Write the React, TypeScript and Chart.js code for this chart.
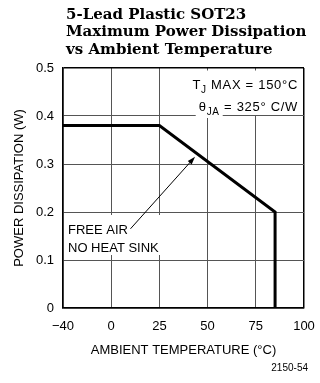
import { useEffect, useRef } from 'react';
import { Chart, registerables } from 'chart.js';

Chart.register(...registerables);

// ---- data ----
const titleLines = ['5-Lead Plastic SOT23', 'Maximum Power Dissipation', 'vs Ambient Temperature'];
const temperatures = [-40, 25, 85, 85];
const powerWatts = [0.38, 0.38, 0.2, 0];
const xTickValues = [-40, 0, 25, 50, 75, 100];
const yTickValues = [0, 0.1, 0.2, 0.3, 0.4, 0.5];
const xAxisTitle = 'AMBIENT TEMPERATURE (°C)';
const yAxisTitle = 'POWER DISSIPATION (W)';
const noteLines = ['FREE AIR', 'NO HEAT SINK'];
const arrowTail = [10, 0.165];
const arrowTip = [43.5, 0.315];
const tjMax = '150';
const thetaJA = '325';
const figureCode = '2150-54';

// axis is broken below 0: the -40..0 span is drawn as wide as one 25-degree step
const toAxis = (t: number) => (t < 0 ? (t * 25) / 40 : t);
const X_MIN = toAxis(xTickValues[0]);
const X_MAX = xTickValues[xTickValues.length - 1];
const Y_MIN = yTickValues[0];
const Y_MAX = yTickValues[yTickValues.length - 1];

const SANS = '"Liberation Sans", Arial, sans-serif';

type Part = { t: string; sub?: boolean };

function drawRich(ctx: CanvasRenderingContext2D, parts: Part[], rightX: number, baseline: number) {
  const main = `13px ${SANS}`;
  const sub = `10px ${SANS}`;
  const widths = parts.map((p) => {
    ctx.font = p.sub ? sub : main;
    return ctx.measureText(p.t).width;
  });
  const total = widths.reduce((a, b) => a + b, 0);
  let cx = rightX - total;
  parts.forEach((p, i) => {
    ctx.font = p.sub ? sub : main;
    ctx.fillText(p.t, cx, baseline + (p.sub ? 4 : 0));
    cx += widths[i];
  });
}

const decorations = {
  id: 'decorations',
  afterDatasetsDraw(chart: any) {
    const { ctx, chartArea: a, scales } = chart;
    const x = scales.x;
    const y = scales.y;
    ctx.save();
    ctx.fillStyle = '#000';
    ctx.textAlign = 'left';
    ctx.textBaseline = 'alphabetic';

    // title
    ctx.font = `bold 15px "DejaVu Serif", serif`;
    titleLines.forEach((l, i) => ctx.fillText(l, a.left + 3, 18.5 + i * 17.5));

    // T_J / theta_JA box
    (ctx as any).letterSpacing = '0.7px';
    const y04 = y.getPixelForValue(0.4);
    const line1: Part[] = [{ t: 'T' }, { t: 'J', sub: true }, { t: ` MAX = ${tjMax}°C` }];
    const line2: Part[] = [{ t: 'θ' }, { t: 'JA', sub: true }, { t: ` = ${thetaJA}° C/W` }];
    const measure = (parts: Part[]) =>
      parts.reduce((s, p) => {
        ctx.font = p.sub ? `10px ${SANS}` : `13px ${SANS}`;
        return s + ctx.measureText(p.t).width;
      }, 0);
    const rightX = a.right - 6;
    const w = Math.max(measure(line1), measure(line2));
    const boxLeft = rightX - w - 4;
    ctx.fillStyle = '#fff';
    ctx.fillRect(boxLeft, a.top + 2.5, a.right - 1 - boxLeft, y04 - 1 - (a.top + 2.5));
    ctx.fillStyle = '#000';
    drawRich(ctx, line1, rightX, y04 - 27);
    // white gap in the 0.4 grid line under the subscript
    const w2 = measure(line2);
    const s2 = rightX - w2;
    ctx.font = `13px ${SANS}`;
    const thW = ctx.measureText('θ').width;
    ctx.font = `10px ${SANS}`;
    const jaW = ctx.measureText('JA').width;
    ctx.fillStyle = '#fff';
    ctx.fillRect(s2 - 3, y04 - 3, thW + jaW + 6, 5);
    ctx.fillStyle = '#000';
    drawRich(ctx, line2, rightX, y04 - 5);
    (ctx as any).letterSpacing = '0px';

    // FREE AIR note
    ctx.font = `13px ${SANS}`;
    const noteX = a.left + 5;
    const noteY0 = y.getPixelForValue(0.2) + 18;
    const noteW = Math.max(...noteLines.map((l) => ctx.measureText(l).width));
    ctx.fillStyle = '#fff';
    ctx.fillRect(noteX - 2, y.getPixelForValue(0.2) + 3, noteW + 5, 40);
    ctx.fillStyle = '#000';
    ctx.textBaseline = 'middle';
    noteLines.forEach((l, i) => ctx.fillText(l, noteX, noteY0 + i * 18));

    // arrow
    const x0 = x.getPixelForValue(toAxis(arrowTail[0]));
    const y0 = y.getPixelForValue(arrowTail[1]);
    const x1 = x.getPixelForValue(toAxis(arrowTip[0]));
    const y1 = y.getPixelForValue(arrowTip[1]);
    const ang = Math.atan2(y1 - y0, x1 - x0);
    const hl = 8;
    const hw = 2.6;
    ctx.strokeStyle = '#000';
    ctx.lineWidth = 1;
    ctx.beginPath();
    ctx.moveTo(x0, y0);
    ctx.lineTo(x1 - Math.cos(ang) * hl * 0.8, y1 - Math.sin(ang) * hl * 0.8);
    ctx.stroke();
    ctx.beginPath();
    ctx.moveTo(x1, y1);
    ctx.lineTo(x1 - Math.cos(ang) * hl - Math.sin(ang) * hw, y1 - Math.sin(ang) * hl + Math.cos(ang) * hw);
    ctx.lineTo(x1 - Math.cos(ang) * hl + Math.sin(ang) * hw, y1 - Math.sin(ang) * hl - Math.cos(ang) * hw);
    ctx.closePath();
    ctx.fill();

    // figure code
    ctx.font = `10px ${SANS}`;
    ctx.textAlign = 'right';
    ctx.textBaseline = 'alphabetic';
    ctx.fillText(figureCode, chart.width - 12, chart.height - 12);
    ctx.restore();
  },
};

export default function App() {
  const ref = useRef<HTMLCanvasElement | null>(null);
  useEffect(() => {
    document.body.style.margin = '0';
    const canvas = ref.current;
    if (!canvas) return;
    const edgeX = (c: any) => c.tick && (c.tick.value === X_MIN || c.tick.value === X_MAX);
    const edgeY = (c: any) => c.tick && (c.tick.value === Y_MIN || c.tick.value === Y_MAX);
    const chart = new Chart(canvas, {
      type: 'line',
      data: {
        datasets: [
          {
            data: temperatures.map((t, i) => ({ x: toAxis(t), y: powerWatts[i] })),
            borderColor: '#000',
            borderWidth: 3,
            pointRadius: 0,
            tension: 0,
            fill: false,
            borderJoinStyle: 'miter',
          },
        ],
      },
      options: {
        animation: false,
        responsive: false,
        devicePixelRatio: 1,
        layout: { padding: { top: 68, right: 16, left: 0, bottom: 0 } },
        plugins: { legend: { display: false }, tooltip: { enabled: false }, title: { display: false } },
        scales: {
          x: {
            type: 'linear',
            min: X_MIN,
            max: X_MAX,
            afterFit: (s: any) => {
              s.height = 75;
              s.paddingLeft = 0;
              s.paddingRight = 0;
            },
            ticks: {
              stepSize: 25,
              autoSkip: false,
              maxRotation: 0,
              color: '#000',
              padding: 11,
              font: { family: SANS, size: 13 },
              callback: (v: any) => {
                const orig = xTickValues.find((t) => Math.abs(toAxis(t) - v) < 1e-6);
                if (orig === undefined) return '';
                return orig < 0 ? '\u2212' + Math.abs(orig) : String(orig);
              },
            },
            grid: {
              drawTicks: false,
              color: (c: any) => (edgeX(c) ? '#000' : '#555'),
              lineWidth: (c: any) => (edgeX(c) ? 1.5 : 1),
            },
            border: { display: true, color: '#000', width: 1.5 },
            title: {
              display: true,
              text: xAxisTitle,
              color: '#000',
              font: { family: SANS, size: 13 },
              padding: { top: 0, bottom: 25 },
            },
          },
          y: {
            min: Y_MIN,
            max: Y_MAX,
            afterFit: (s: any) => {
              s.width = 63;
              s.paddingTop = 0;
              s.paddingBottom = 0;
            },
            ticks: {
              stepSize: 0.1,
              color: '#000',
              padding: 9,
              font: { family: SANS, size: 13 },
              callback: (v: any) => {
                const n = Number(v);
                return n === 0 ? '0' : n.toFixed(1);
              },
            },
            grid: {
              drawTicks: false,
              color: (c: any) => (edgeY(c) ? '#000' : '#555'),
              lineWidth: (c: any) => (edgeY(c) ? 1.5 : 1),
            },
            border: { display: true, color: '#000', width: 1.5 },
            title: {
              display: true,
              text: yAxisTitle,
              color: '#000',
              font: { family: SANS, size: 13 },
              padding: { top: 12, bottom: 0 },
            },
          },
        },
      },
      plugins: [decorations],
    } as any);
    return () => chart.destroy();
  }, []);
  return (
    <div style={{ width: 320, height: 383, background: '#fff' }}>
      <canvas ref={ref} width={320} height={383} style={{ display: 'block' }} />
    </div>
  );
}
